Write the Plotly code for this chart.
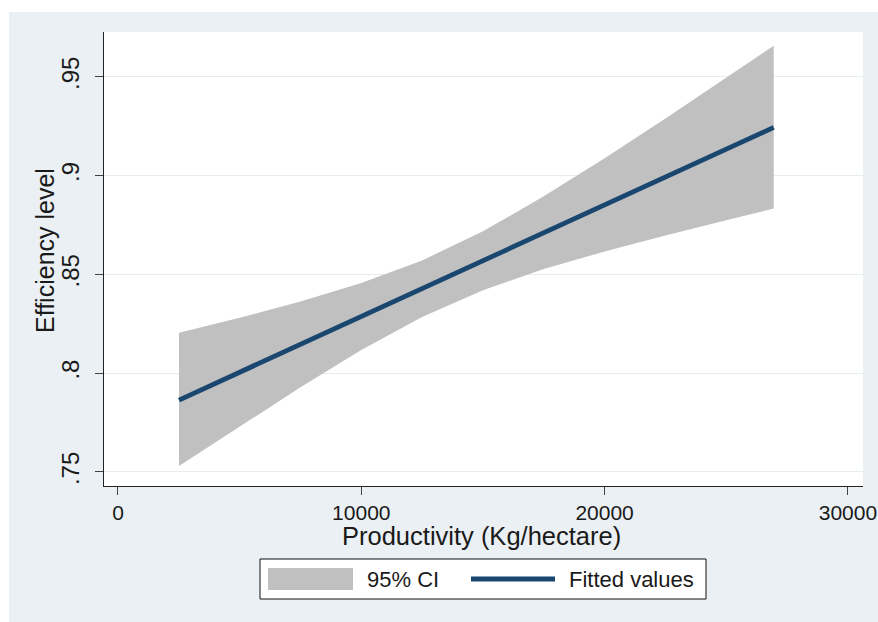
import plotly.graph_objects as go

# Productivity (Kg/hectare) at which the fit and its confidence band are evaluated
productivity = [2507, 5000, 7500, 10000, 12500, 15000, 17500, 20000, 22500, 25000, 26950]
# Linear prediction of efficiency level
fitted = [0.7864, 0.8005, 0.8146, 0.8287, 0.8428, 0.8569, 0.8711, 0.8852, 0.8993, 0.9134, 0.9244]
# 95% confidence interval bounds
ci_upper = [0.8205, 0.8280, 0.8363, 0.8456, 0.8571, 0.8718, 0.8895, 0.9088, 0.9289, 0.9494, 0.9658]
ci_lower = [0.7530, 0.7730, 0.7929, 0.8118, 0.8285, 0.8420, 0.8527, 0.8616, 0.8697, 0.8774, 0.8833]

x_ticks = [0, 10000, 20000, 30000]
x_tick_labels = ["0", "10000", "20000", "30000"]
y_ticks = [0.75, 0.80, 0.85, 0.90, 0.95]
y_tick_labels = [".75", ".8", ".85", ".9", ".95"]

FONT = "Liberation Sans, Arial, sans-serif"
TEXT = "#1a1a1a"
BAND = "#c0c0c0"
NAVY = "#1a476f"
REGION = "#eaf0f3"

fig = go.Figure()

fig.add_trace(go.Scatter(
    x=productivity, y=ci_lower, mode="lines",
    line=dict(width=0, color=BAND), hoverinfo="skip", showlegend=False,
))
fig.add_trace(go.Scatter(
    x=productivity, y=ci_upper, mode="lines", fill="tonexty",
    fillcolor=BAND, line=dict(width=0, color=BAND), name="95% CI", showlegend=False,
))
fig.add_trace(go.Scatter(
    x=productivity, y=fitted, mode="lines",
    line=dict(width=4.8, color=NAVY), name="Fitted values", showlegend=False,
))

W, H = 878, 622
L, R, T, B = 104, 15, 32, 136
pw, ph = W - L - R, H - T - B


def px_x(p):
    return (p - L) / pw


def px_y(p):
    return (H - B - p) / ph


shapes = [
    # white strips framing the graph region
    dict(type="rect", xref="paper", yref="paper", x0=px_x(0), x1=px_x(W),
         y0=px_y(12), y1=px_y(0), fillcolor="white", line=dict(width=0), layer="below"),
    dict(type="rect", xref="paper", yref="paper", x0=px_x(0), x1=px_x(9),
         y0=px_y(H), y1=px_y(0), fillcolor="white", line=dict(width=0), layer="below"),
    # legend box
    dict(type="rect", xref="paper", yref="paper", x0=px_x(260), x1=px_x(706),
         y0=px_y(599), y1=px_y(559), fillcolor="white", line=dict(width=1, color="#111111")),
    dict(type="rect", xref="paper", yref="paper", x0=px_x(268), x1=px_x(353),
         y0=px_y(590), y1=px_y(568), fillcolor=BAND, line=dict(width=0)),
    dict(type="line", xref="paper", yref="paper", x0=px_x(471), x1=px_x(555),
         y0=px_y(579), y1=px_y(579), line=dict(width=4.8, color=NAVY)),
]

annotations = [
    # legend entries
    dict(xref="paper", yref="paper", x=px_x(365), y=px_y(579), text="95% CI",
         showarrow=False, xanchor="left", yanchor="middle",
         font=dict(family=FONT, size=22, color=TEXT)),
    dict(xref="paper", yref="paper", x=px_x(567), y=px_y(579), text="Fitted values",
         showarrow=False, xanchor="left", yanchor="middle",
         font=dict(family=FONT, size=22, color=TEXT)),
    # axis titles
    dict(xref="paper", yref="paper", x=px_x(481), y=px_y(536), text="Productivity (Kg/hectare)",
         showarrow=False, xanchor="center", yanchor="middle", borderpad=0,
         font=dict(family=FONT, size=25.5, color=TEXT)),
    dict(xref="paper", yref="paper", x=px_x(45), y=px_y(251), text="Efficiency level",
         showarrow=False, xanchor="center", yanchor="middle", textangle=-90,
         font=dict(family=FONT, size=25, color=TEXT)),
]

fig.update_layout(
    width=W, height=H,
    margin=dict(l=L, r=R, t=T, b=B, pad=0, autoexpand=False),
    paper_bgcolor=REGION, plot_bgcolor="white",
    font=dict(family=FONT, color=TEXT, size=21),
    showlegend=False,
    shapes=shapes, annotations=annotations,
    xaxis=dict(
        range=[-575, 30620], tickvals=x_ticks, ticktext=x_tick_labels, automargin=False,
        ticklabelstandoff=0,
        showgrid=False, zeroline=False, showline=True, linecolor="#222222", linewidth=1,
        ticks="outside", ticklen=8, tickcolor="#444444", tickwidth=1,
        tickfont=dict(size=21, family=FONT, color=TEXT),
    ),
    yaxis=dict(
        range=[0.7429, 0.9727], tickvals=y_ticks, ticktext=y_tick_labels, tickangle=-90,
        automargin=False, ticklabelstandoff=6,
        showgrid=True, gridcolor="#e6edf0", gridwidth=1, zeroline=False,
        showline=True, linecolor="#222222", linewidth=1,
        ticks="outside", ticklen=8, tickcolor="#444444", tickwidth=1,
        tickfont=dict(size=24, family=FONT, color=TEXT),
    ),
)

fig.write_html("out.html")
